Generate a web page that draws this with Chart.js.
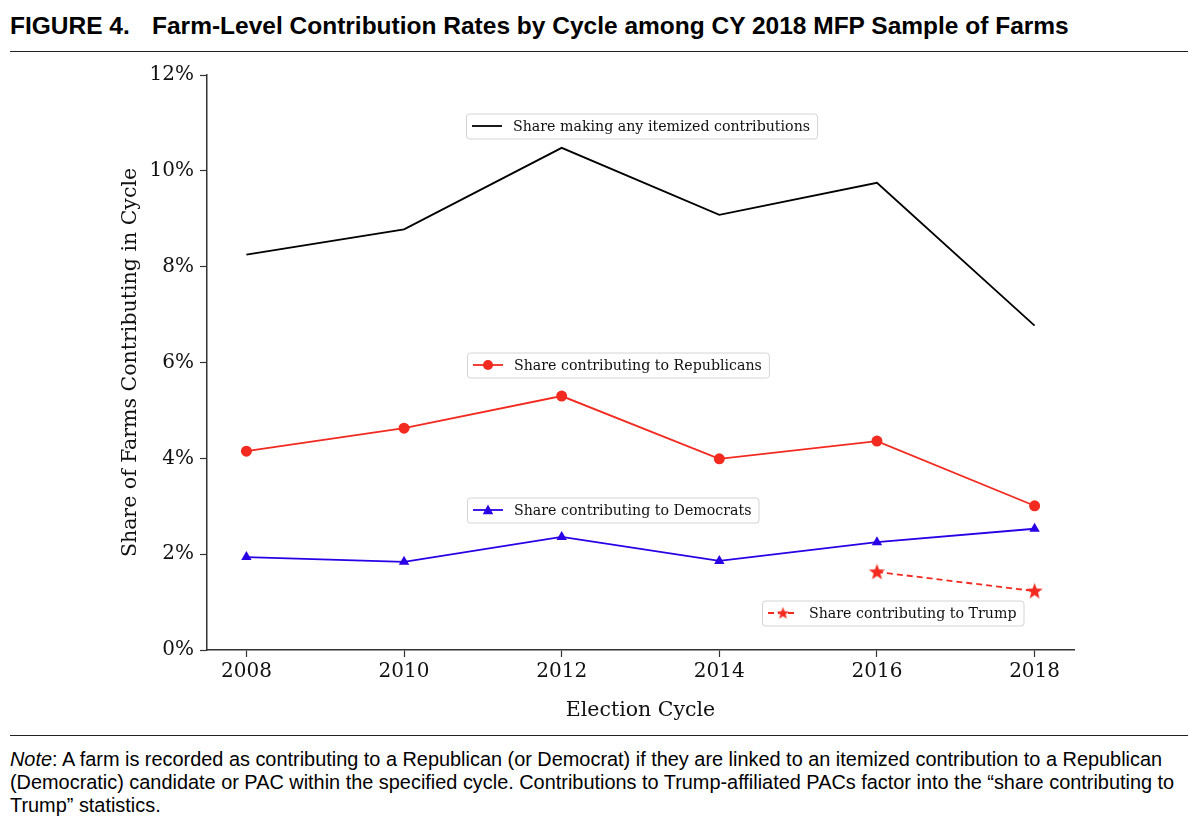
<!DOCTYPE html>
<html>
<head>
<meta charset="utf-8">
<script src="https://cdn.jsdelivr.net/npm/chart.js@4/dist/chart.umd.min.js"></script>
<style>
  body { margin: 0; background: #fff; width: 1200px; height: 824px; position: relative; overflow: hidden; }
  #title { position: absolute; left: 10px; top: 12px; font: bold 24.5px "Liberation Sans", Arial, sans-serif; line-height: 28px; color: #000; white-space: nowrap; }
  #title .num { display: inline-block; width: 142px; }
  .rule { position: absolute; left: 10px; width: 1178px; height: 0; border-top: 1.5px solid #222; }
  #wrap { position: absolute; left: 0; top: 55px; width: 1200px; height: 680px; }
  #note { position: absolute; left: 10px; top: 748px; width: 1185px; font: 19.9px "Liberation Sans", Arial, sans-serif; line-height: 23px; color: #000; }
</style>
</head>
<body>
<div id="title"><span class="num">FIGURE 4.</span>Farm-Level Contribution Rates by Cycle among CY 2018 MFP Sample of Farms</div>
<div class="rule" style="top:51px"></div>
<div id="wrap"><canvas id="chart" width="1200" height="680"></canvas></div>
<div class="rule" style="top:735px"></div>
<div id="note"><i>Note</i>: A farm is recorded as contributing to a Republican (or Democrat) if they are linked to an itemized contribution to a Republican (Democratic) candidate or PAC within the specified cycle. Contributions to Trump-affiliated PACs factor into the “share contributing to Trump” statistics.</div>
<script>
const cycles = [2008, 2010, 2012, 2014, 2016, 2018];
const anyShare = [8.25, 8.78, 10.48, 9.08, 9.75, 6.77];
const repShare = [4.15, 4.63, 5.30, 3.99, 4.36, 3.01];
const demShare = [1.94, 1.84, 2.36, 1.86, 2.25, 2.53];
const trumpCycles = [2016, 2018];
const trumpShare = [1.63, 1.23];
const yTicks = [0, 2, 4, 6, 8, 10, 12];

const RED = '#f22a1f';
const BLUE = '#2a00e6';
const serif = '"DejaVu Serif", serif';

// filled five-point star used as the Trump marker
function makeStar(size, color) {
    const c = document.createElement('canvas');
    c.width = size; c.height = size;
    const g = c.getContext('2d');
    const r = size / 2, ri = r * 0.42;
    g.beginPath();
    for (let i = 0; i < 10; i++) {
        const rad = i % 2 ? ri : r;
        const a = -Math.PI / 2 + i * Math.PI / 5;
        g.lineTo(r + rad * Math.cos(a), r + 0.5 + rad * Math.sin(a));
    }
    g.closePath();
    g.fillStyle = color;
    g.fill();
    return c;
}
const star = makeStar(17, RED);
const starSmall = makeStar(13, RED);

function pts(xs, ys) {
    return xs.map((x, i) => ({ x: x, y: ys[i] }));
}

// matplotlib-style legend boxes placed inside the plot, one per series
const boxLegends = {
    id: 'boxLegends',
    afterDraw(chart, args, opts) {
        const ctx = chart.ctx;
        const a = chart.chartArea;
        ctx.save();
        ctx.font = '14.2px ' + serif;
        opts.items.forEach(item => {
            const ds = chart.data.datasets[item.ds];
            const tw = ctx.measureText(ds.label).width;
            const x = Math.round(a.left + item.fx * (a.right - a.left));
            const cy = Math.round(a.top + item.fy * (a.bottom - a.top));
            const w = 6 + 30 + 11 + tw + 7, h = 25;
            ctx.beginPath();
            ctx.roundRect(x + 0.5, cy - h / 2 + 0.5, w, h, 3);
            ctx.fillStyle = 'rgba(255,255,255,0.85)';
            ctx.fill();
            ctx.strokeStyle = '#d4d4d4';
            ctx.lineWidth = 1;
            ctx.stroke();
            // sample line
            ctx.beginPath();
            ctx.setLineDash(ds.borderDash || []);
            ctx.strokeStyle = ds.borderColor;
            ctx.lineWidth = ds.borderWidth;
            ctx.moveTo(x + 6, cy);
            ctx.lineTo(x + 36, cy);
            ctx.stroke();
            ctx.setLineDash([]);
            // sample marker
            const mx = x + 21, r = ds.pointRadius - 0.5;
            if (ds.pointStyle === star) {
                ctx.drawImage(starSmall, mx - 6.5, cy - 6.5);
            } else if (ds.pointRadius > 0) {
                ctx.fillStyle = ds.pointBackgroundColor;
                ctx.beginPath();
                if (ds.pointStyle === 'circle') {
                    ctx.arc(mx, cy, r, 0, Math.PI * 2);
                } else {
                    ctx.moveTo(mx, cy - r);
                    ctx.lineTo(mx + r * 0.95, cy + r * 0.75);
                    ctx.lineTo(mx - r * 0.95, cy + r * 0.75);
                    ctx.closePath();
                }
                ctx.fill();
            }
            ctx.fillStyle = '#111';
            ctx.textBaseline = 'middle';
            ctx.fillText(ds.label, x + 47, cy + 1);
        });
        ctx.restore();
    }
};

new Chart(document.getElementById('chart'), {
    type: 'line',
    data: {
        datasets: [
            {
                label: 'Share making any itemized contributions',
                data: pts(cycles, anyShare),
                borderColor: '#000', borderWidth: 1.8, pointRadius: 0
            },
            {
                label: 'Share contributing to Republicans',
                data: pts(cycles, repShare),
                borderColor: RED, backgroundColor: RED, pointBackgroundColor: RED,
                borderWidth: 1.8, pointRadius: 5.5, pointBorderWidth: 0, pointStyle: 'circle'
            },
            {
                label: 'Share contributing to Democrats',
                data: pts(cycles, demShare),
                borderColor: BLUE, backgroundColor: BLUE, pointBackgroundColor: BLUE,
                borderWidth: 1.8, pointRadius: 6, pointBorderWidth: 0, pointStyle: 'triangle'
            },
            {
                label: 'Share contributing to Trump',
                data: pts(trumpCycles, trumpShare),
                borderColor: RED, borderWidth: 1.8, borderDash: [6, 4],
                pointRadius: 8, pointStyle: star
            }
        ]
    },
    options: {
        responsive: false,
        animation: false,
        devicePixelRatio: 1,
        layout: { padding: { top: 20, right: 126, left: 0, bottom: 0 } },
        plugins: {
            legend: { display: false },
            tooltip: { enabled: false },
            boxLegends: {
                items: [
                    { ds: 0, fx: 0.299, fy: 0.088 },
                    { ds: 1, fx: 0.300, fy: 0.504 },
                    { ds: 2, fx: 0.300, fy: 0.757 },
                    { ds: 3, fx: 0.640, fy: 0.936 }
                ]
            }
        },
        scales: {
            x: {
                type: 'linear', min: 2007.5, max: 2018.5,
                afterBuildTicks: s => { s.ticks = cycles.map(v => ({ value: v })); },
                afterFit: s => { s.height = 85; },
                ticks: { color: '#111', font: { family: serif, size: 20 }, padding: 3, callback: v => String(v) },
                grid: { drawOnChartArea: false, tickLength: 7, color: '#333', tickWidth: 1.2 },
                border: { display: true, color: '#333', width: 1.5 },
                title: { display: true, text: 'Election Cycle', color: '#111', font: { family: serif, size: 20.5 }, padding: { bottom: 12 } }
            },
            y: {
                min: 0, max: 12,
                afterBuildTicks: s => { s.ticks = yTicks.map(v => ({ value: v })); },
                afterFit: s => { s.width = 207; },
                ticks: { color: '#111', font: { family: serif, size: 20 }, padding: 6, callback: v => v + '%' },
                grid: { drawOnChartArea: false, tickLength: 7, color: '#333', tickWidth: 1.2 },
                border: { display: true, color: '#333', width: 1.5 },
                title: { display: true, text: 'Share of Farms Contributing in Cycle', color: '#111', font: { family: serif, size: 20.5 }, padding: { top: 118 } }
            }
        }
    },
    plugins: [boxLegends]
});
</script>
</body>
</html>
